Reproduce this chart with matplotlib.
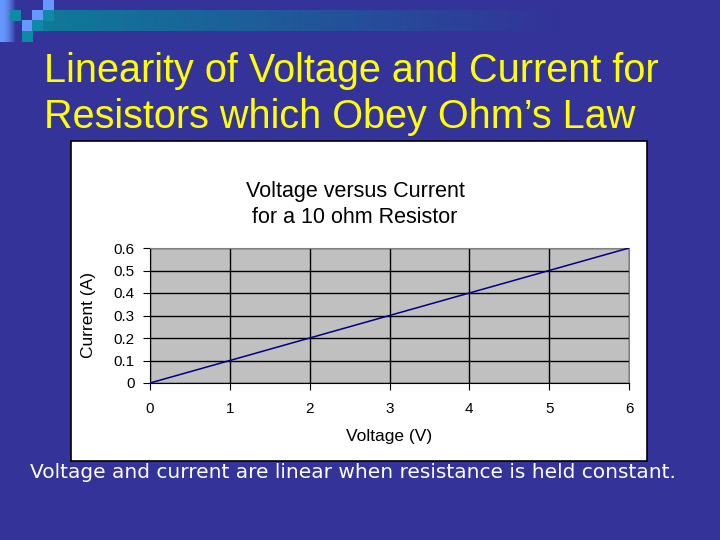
import numpy as np
import matplotlib
matplotlib.use('Agg')
import matplotlib.pyplot as plt
from matplotlib.patches import Rectangle

# data: 10 ohm resistor, I = V / R
voltage = [0, 1, 2, 3, 4, 5, 6]
current = [0, 0.1, 0.2, 0.3, 0.4, 0.5, 0.6]
x_ticks = [0, 1, 2, 3, 4, 5, 6]
y_ticks = [0, 0.1, 0.2, 0.3, 0.4, 0.5, 0.6]
y_ticklabels = ['0', '0.1', '0.2', '0.3', '0.4', '0.5', '0.6']

title_lines = ['Linearity of Voltage and Current for', 'Resistors which Obey Ohm\u2019s Law']
chart_title_lines = ['Voltage versus Current', 'for a 10 ohm Resistor']
caption = 'Voltage and current are linear when resistance is held constant.'

bg = '#333399'
W, H = 720, 540

fig = plt.figure(figsize=(7.2, 5.4), dpi=100, facecolor=bg)

# background layer in pixel coords
bgax = fig.add_axes([0, 0, 1, 1])
bgax.set_xlim(0, W)
bgax.set_ylim(H, 0)
bgax.axis('off')
bgax.set_facecolor(bg)

# teal band fading into the background
teal = np.array([0x0f, 0x7a, 0x9a]) / 255
bgc = np.array([0x33, 0x33, 0x99]) / 255
t = np.linspace(0, 1, 200)[None, :, None]
band = teal * (1 - t) + bgc * t
bgax.imshow(band, extent=(43, 560, 31, 10), aspect='auto', zorder=1)

# left light strip
light = np.array([0x66, 0x99, 0xff]) / 255
t2 = np.linspace(0, 1, 30)[None, :, None]
strip = light * (1 - t2 ** 2) + bgc * t2 ** 2
bgax.imshow(strip, extent=(0, 16, 42, 0), aspect='auto', zorder=1)

# checker squares
lb, tl = '#6699ff', '#0f8aa5'
squares = [(43, 0, lb), (10, 10, tl), (32, 10, lb), (43, 10, tl),
           (22, 20, lb), (32, 20, tl), (22, 31, tl)]
for sx, sy, c in squares:
    bgax.add_patch(Rectangle((sx, sy), 11, 11, facecolor=c, edgecolor='none', zorder=2))

for line, yb in zip(title_lines, [82, 128]):
    bgax.text(44, yb, line, color='#ffff00', fontsize=28.5, family='Liberation Sans',
              va='baseline', ha='left', zorder=3)

# chart box
bgax.add_patch(Rectangle((71, 141), 576, 320, facecolor='white', edgecolor='black',
                         linewidth=1.2, zorder=3))
for line, yb in zip(chart_title_lines, [197, 223]):
    bgax.text(355, yb, line, fontsize=15.5, family='Liberation Sans', ha='center',
              va='baseline', zorder=4)
bgax.text(353, 478, caption, color='white', fontsize=14.5, family='DejaVu Sans',
          ha='center', va='baseline', zorder=4)

ax = fig.add_axes([150 / W, 1 - 383 / H, 479 / W, 135 / H])
ax.set_facecolor('#c0c0c0')
ax.plot(voltage, current, color='#000080', linewidth=1.1, zorder=3)
ax.set_xlim(0, 6)
ax.set_ylim(0, 0.6)
ax.set_xticks(x_ticks)
ax.set_yticks(y_ticks)
ax.set_yticklabels(y_ticklabels)
ax.grid(True, color='black', linewidth=1)
for side in ['top', 'right']:
    ax.spines[side].set_color('#808080')
for side in ['left', 'bottom']:
    ax.spines[side].set_color('black')
ax.tick_params(direction='out', length=5, labelsize=11)
for lbl in ax.get_xticklabels() + ax.get_yticklabels():
    lbl.set_family('Liberation Sans')
ax.tick_params(axis='x', pad=9)
ax.tick_params(axis='y', pad=6)
ax.set_xlabel('Voltage (V)', fontsize=12.5, family='Liberation Sans', labelpad=9)
ax.set_ylabel('Current (A)', fontsize=12.5, family='Liberation Sans', labelpad=13)

fig.savefig('out.png', dpi=100, facecolor=bg)
